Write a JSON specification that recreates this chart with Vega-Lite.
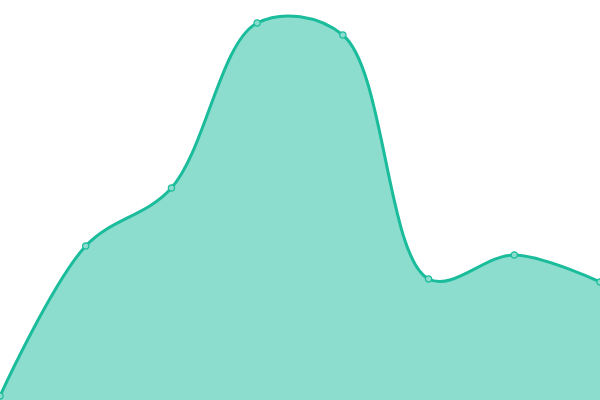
{
  "$schema": "https://vega.github.io/schema/vega-lite/v6.json",
  "width": 600,
  "height": 400,
  "autosize": {"type": "none"},
  "padding": 0,
  "config": {"view": {"stroke": null}},
  "data": {"values": [
    {"i": 0, "v": 4},
    {"i": 1, "v": 154},
    {"i": 2, "v": 212},
    {"i": 3, "v": 377},
    {"i": 4, "v": 365},
    {"i": 5, "v": 121},
    {"i": 6, "v": 145},
    {"i": 7, "v": 118}
  ]},
  "encoding": {
    "x": {"field": "i", "type": "quantitative", "scale": {"domain": [0, 7], "nice": false}, "axis": null},
    "y": {"field": "v", "type": "quantitative", "scale": {"domain": [0, 400], "nice": false}, "axis": null}
  },
  "layer": [
    {"mark": {"type": "area", "interpolate": "catmull-rom", "color": "#1abc9c", "opacity": 0.5}},
    {"mark": {"type": "line", "interpolate": "catmull-rom", "color": "#1abc9c", "strokeWidth": 3}},
    {"mark": {"type": "point", "filled": true, "fill": "#8cddcd", "stroke": "#1abc9c", "strokeWidth": 1.2, "size": 40, "opacity": 1}}
  ]
}
